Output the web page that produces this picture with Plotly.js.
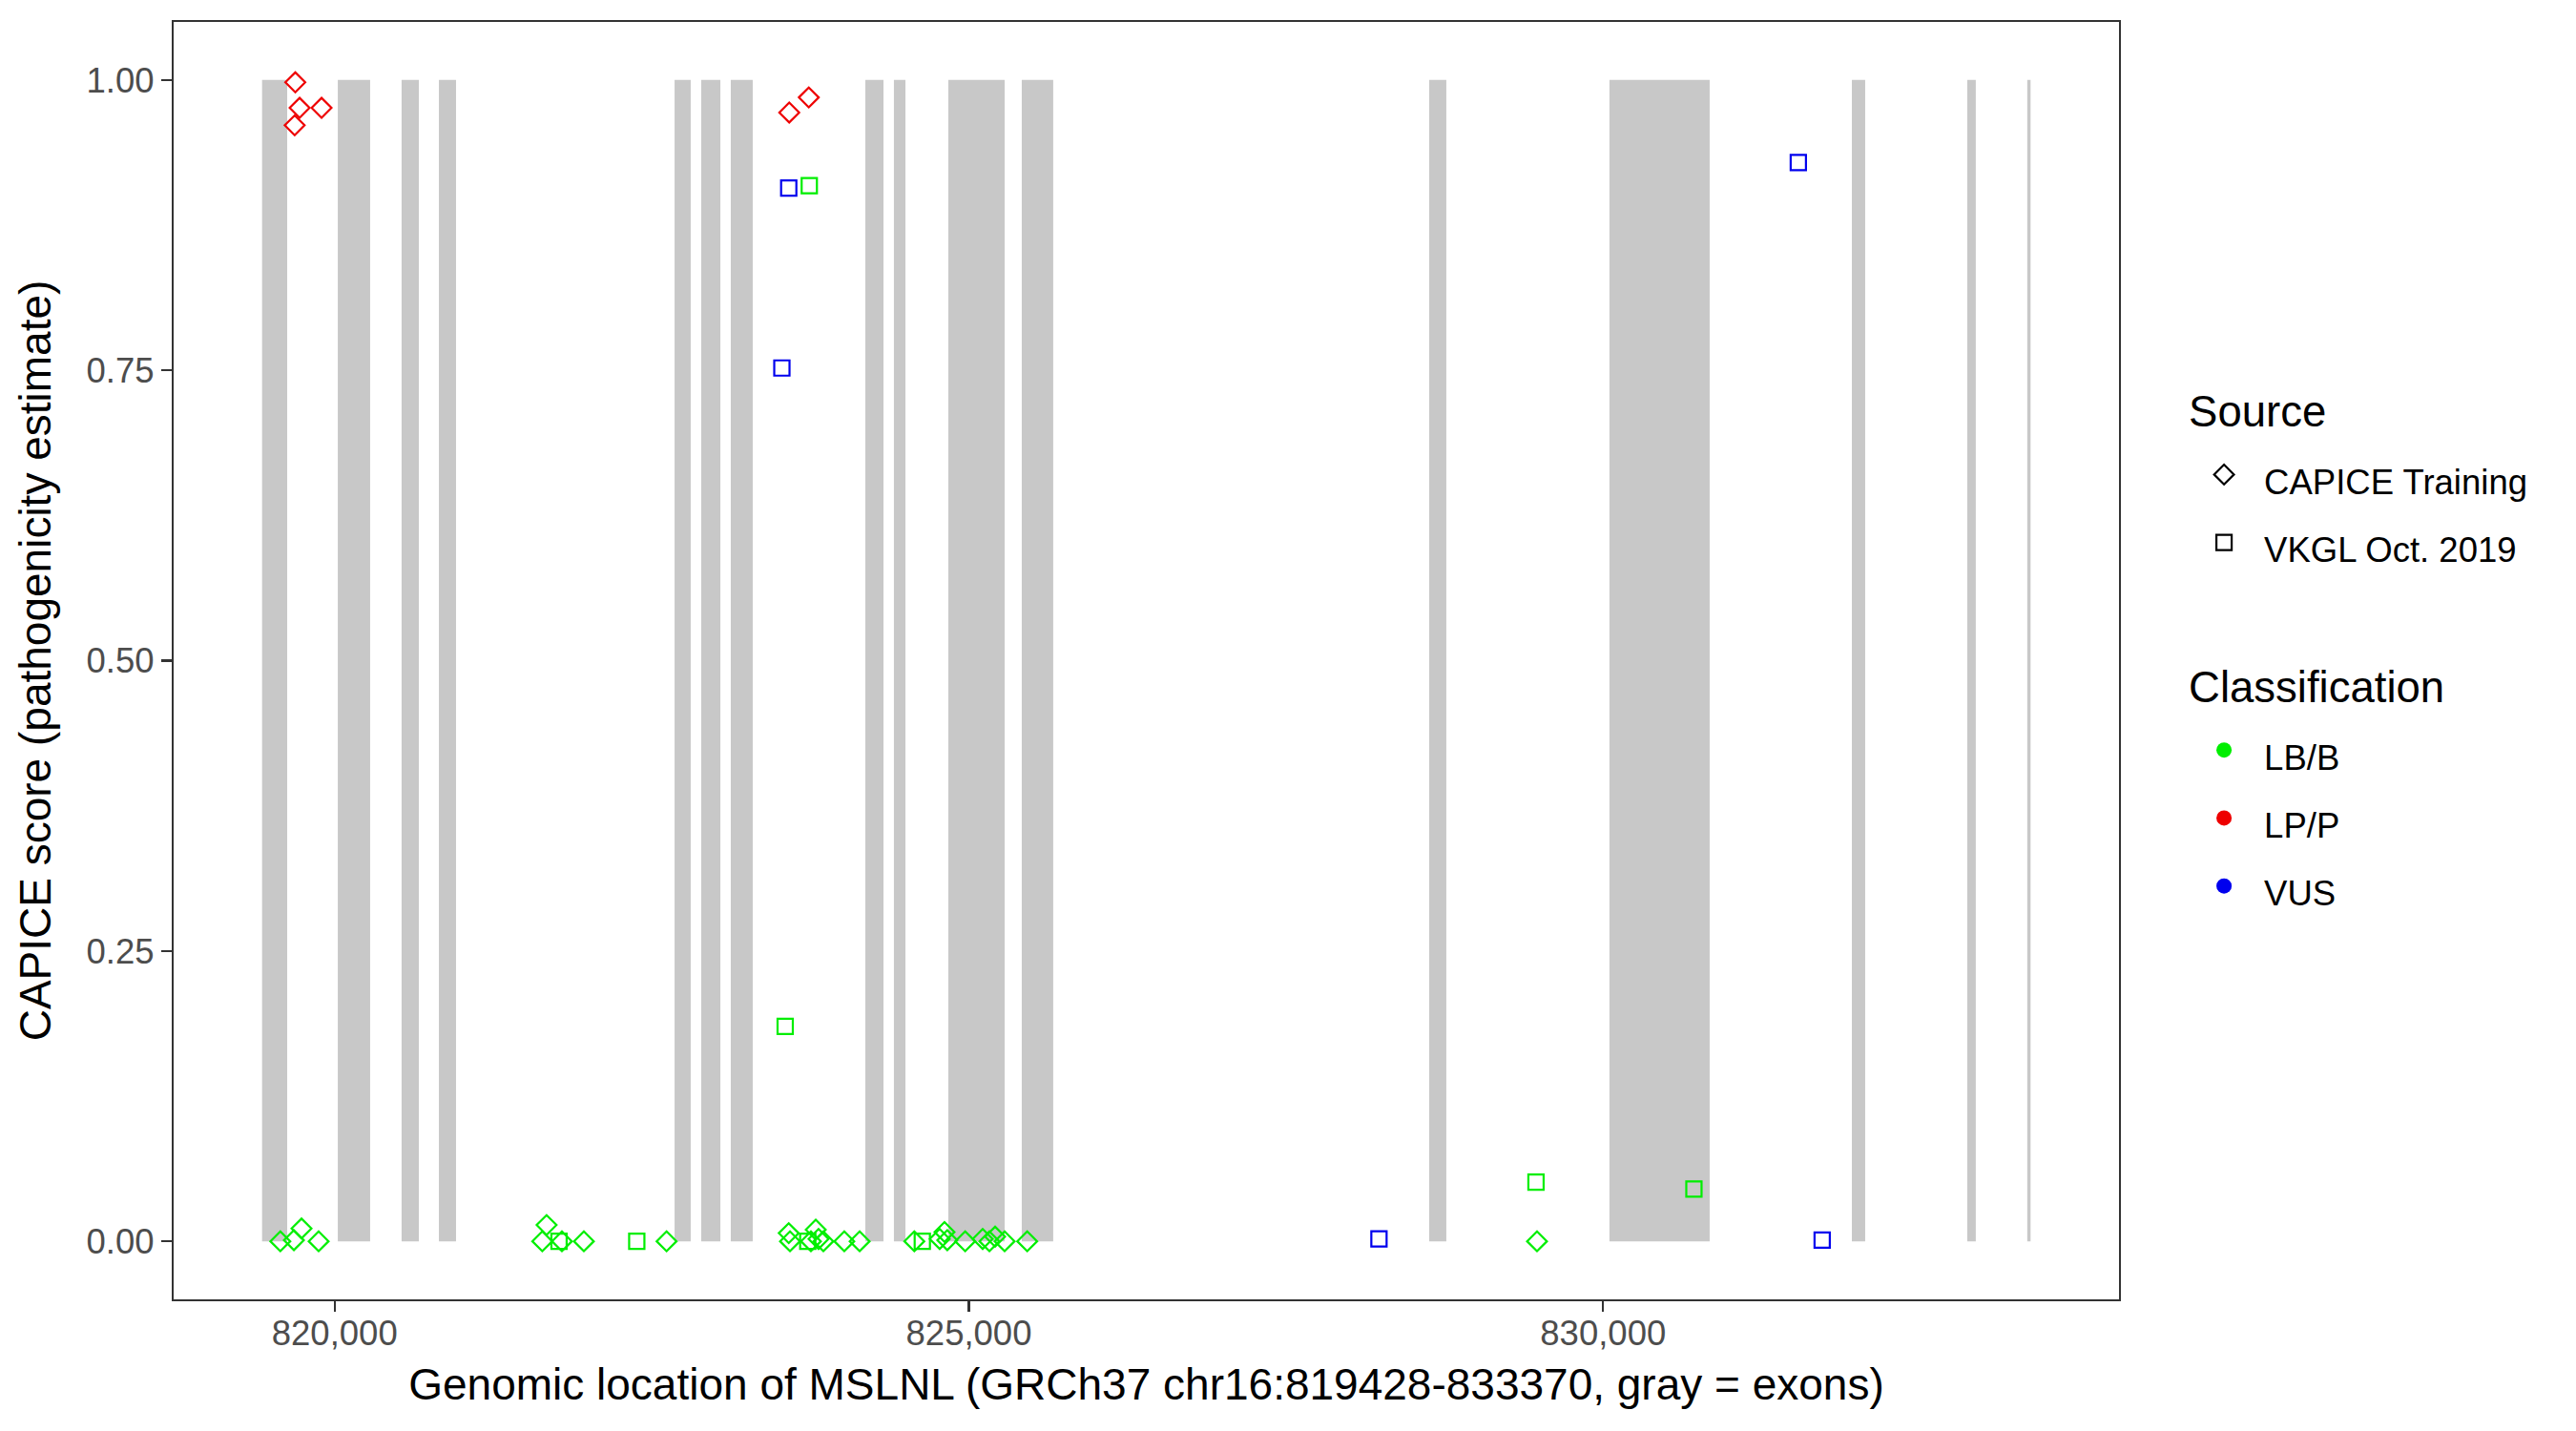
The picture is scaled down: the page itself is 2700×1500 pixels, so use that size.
<!DOCTYPE html>
<html>
<head>
<meta charset="utf-8">
<script src="https://cdn.plot.ly/plotly-3.0.1.min.js"></script>
<style>html,body{margin:0;padding:0;background:#fff;}#chart{width:2700px;height:1500px;}</style>
</head>
<body>
<div id="chart"></div>
<script>
// Exons of MSLNL (GRCh37 chr16)
const exonStart = [819428, 820025, 820528, 820822, 822680, 822890, 823123, 824184, 824409, 824838, 825417, 828629, 830050, 831961, 832871, 833344];
const exonEnd   = [819626, 820280, 820664, 820957, 822807, 823041, 823296, 824327, 824500, 825282, 825665, 828764, 830840, 832066, 832938, 833370];

// CAPICE Training variants
const capiceLBx = [819572, 819679, 819739, 819874, 821637, 821671, 821792, 821965, 822617, 823580, 823590, 823755, 823793, 823815, 823853, 824018, 824139, 824570, 824770, 824808, 824830, 824971, 825109, 825162, 825207, 825282, 825460, 829479];
const capiceLBy = [0, 0.001, 0.011, 0, 0, 0.014, 0, 0, 0, 0.007, 0, 0, 0.01, 0.002, 0, 0, 0, 0, 0.002, 0.008, 0.001, 0, 0.002, 0, 0.004, 0, 0, 0];
const capiceLPx = [819690, 819724, 819897, 819685, 823584, 823738];
const capiceLPy = [0.998, 0.976, 0.976, 0.961, 0.972, 0.985];

// VKGL Oct. 2019 variants
const vkglLBx = [821769, 822382, 823730, 824633, 823552, 823742, 829471, 830716];
const vkglLBy = [0, 0, 0, 0, 0.185, 0.909, 0.051, 0.045];
const vkglVUSx = [823526, 823580, 828233, 831539, 831727];
const vkglVUSy = [0.752, 0.907, 0.002, 0.929, 0.001];

const sourceNames = ['CAPICE Training', 'VKGL Oct. 2019'];
const classNames = ['LB/B', 'LP/P', 'VUS'];
const yTicks = [0, 0.25, 0.5, 0.75, 1];
const xTicks = [820000, 825000, 830000];

const GREEN = '#00EE00', RED = '#EE0000', BLUE = '#0000EE';
const classColors = [GREEN, RED, BLUE];
const sourceSymbols = ['diamond-open', 'square-open'];
const MS = 16, ML = 2.2;

function pts(x, y, sym, col) {
  return {type: 'scatter', mode: 'markers', x: x, y: y, showlegend: false, hoverinfo: 'skip',
    marker: {symbol: sym, size: MS, color: col, line: {width: ML, color: col}}};
}

const traces = [
  pts(capiceLBx, capiceLBy, 'diamond-open', GREEN),
  pts(capiceLPx, capiceLPy, 'diamond-open', RED),
  pts(vkglLBx, vkglLBy, 'square-open', GREEN),
  pts(vkglVUSx, vkglVUSy, 'square-open', BLUE)
];

const itemSpan = s => '<span style="font-size:36.5px">' + s + '</span>';
const titleSpan = s => '<span style="font-size:45.5px">' + s + '</span>';

sourceNames.forEach((n, i) => traces.push({
  type: 'scatter', mode: 'markers', x: [null], y: [null], name: itemSpan(n),
  legendgroup: 'source', legendgrouptitle: {text: titleSpan('Source'), font: {size: 51, color: '#000'}},
  marker: {symbol: sourceSymbols[i], size: 18, color: '#000', line: {width: ML, color: '#000'}}
}));
classNames.forEach((n, i) => traces.push({
  type: 'scatter', mode: 'markers', x: [null], y: [null], name: itemSpan(n),
  legendgroup: 'class', legendgrouptitle: {text: titleSpan('Classification'), font: {size: 51, color: '#000'}},
  marker: {symbol: 'circle', size: 18, color: classColors[i]}
}));

const xMin = Math.min(...exonStart), xMax = Math.max(...exonEnd);
const pad = (xMax - xMin) * 0.05;

const shapes = exonStart.map((s, i) => ({
  type: 'rect', xref: 'x', yref: 'y', x0: s, x1: exonEnd[i], y0: 0, y1: 1,
  fillcolor: '#C8C8C8', line: {width: 0}, layer: 'below'
}));

const axisCommon = {
  ticks: 'outside', ticklen: 11, tickwidth: 2.2, tickcolor: '#333333',
  tickfont: {size: 36.5, color: '#4D4D4D'},
  showgrid: false, zeroline: false, showline: true, mirror: true,
  linecolor: '#333333', linewidth: 2.2
};

const layout = {
  width: 2700, height: 1500,
  margin: {l: 182, r: 479, t: 23, b: 138},
  paper_bgcolor: '#fff', plot_bgcolor: '#fff',
  font: {family: '"Liberation Sans", Arial, sans-serif', color: '#000', size: 45.5},
  showlegend: true,
  legend: {x: 1.0334, xanchor: 'left', y: 0.7278, yanchor: 'top', traceorder: 'grouped',
    tracegroupgap: 77, font: {size: 52.5, color: '#000'}, bgcolor: 'rgba(0,0,0,0)', itemwidth: 74},
  xaxis: Object.assign({}, axisCommon, {
    range: [xMin - pad, xMax + pad], tickvals: xTicks, tickformat: ',d', ticklabelstandoff: -9,
    title: {text: 'Genomic location of MSLNL (GRCh37 chr16:819428-833370, gray = exons)', font: {size: 46, color: '#000'}, standoff: 18}
  }),
  yaxis: Object.assign({}, axisCommon, {
    range: [-0.05, 1.05], tickvals: yTicks, tickformat: '.2f',
    title: {text: 'CAPICE score (pathogenicity estimate)', font: {size: 46, color: '#000'}, standoff: 22}
  }),
  shapes: shapes
};

Plotly.newPlot('chart', traces, layout, {displayModeBar: false, staticPlot: true});
</script>
</body>
</html>
